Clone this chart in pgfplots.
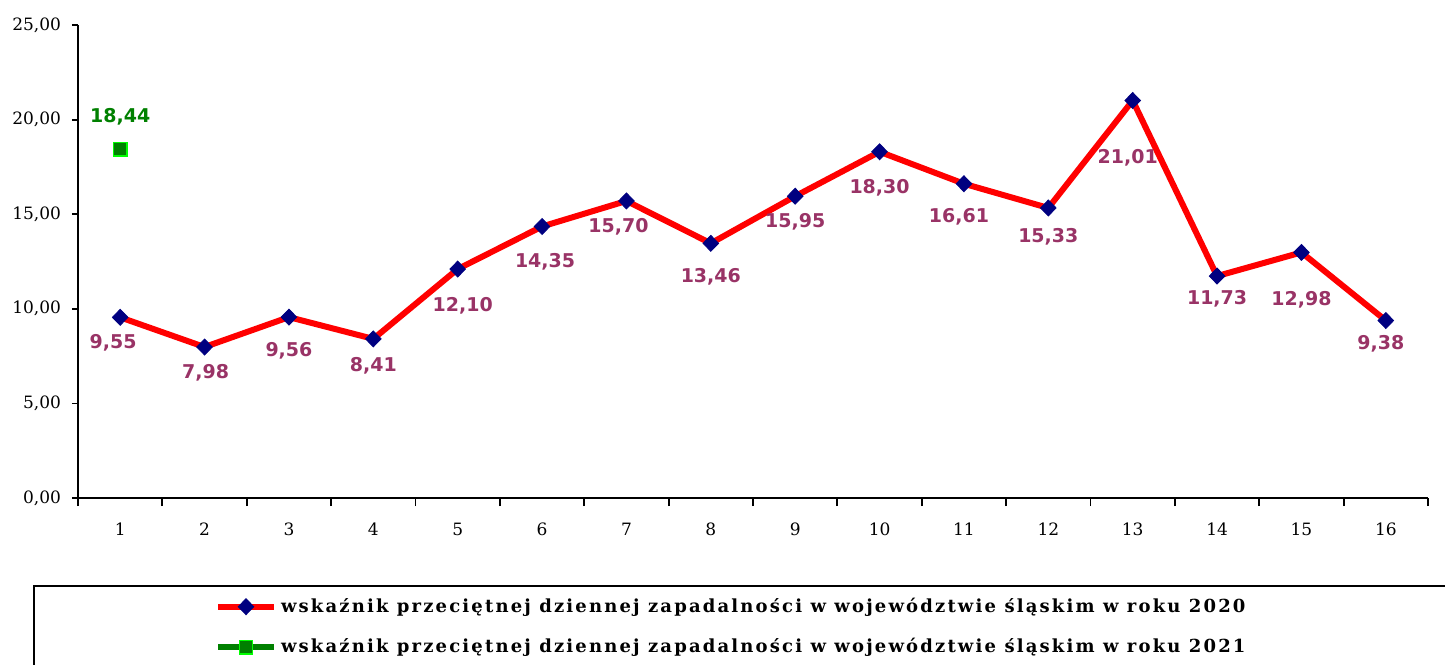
\documentclass[border=0pt]{standalone}
\usepackage{pgfplots}
\pgfplotsset{compat=1.18}
\usepackage{pgfplotstable}
\usepackage{fontspec}
\setmainfont{DejaVu Serif}
\newfontfamily\labfont{DejaVu Sans}
\newfontfamily\legfont[LetterSpace=12]{DejaVu Serif}
\definecolor{lred}{RGB}{255,0,0}
\definecolor{navyb}{RGB}{0,0,128}
\definecolor{plum}{RGB}{153,51,102}
\definecolor{dgreen}{RGB}{0,128,0}
\definecolor{limeg}{RGB}{0,255,0}

\pgfplotstableread{
x y lx ly
1 9.55 -3.5 12.5
2 7.98 0.5 13
3 9.56 0 17
4 8.41 0 13.5
5 12.10 2.5 18.5
6 14.35 1.5 17.5
7 15.70 -4 13
8 13.46 0 16.5
9 15.95 0 13
10 18.30 0 18
11 16.61 -2.5 16.5
12 15.33 0 14.5
13 21.01 -2.5 28.5
14 11.73 0 11.5
15 12.98 0 23.5
16 9.38 -2.5 11.5
}\datatwenty

\pgfplotstableread{
x y
1 18.44
}\datatwentyone

\begin{document}
\begin{tikzpicture}
\begin{axis}[
  name=ax,
  scale only axis,
  width=675pt, height=236.5pt,
  xmin=0.5, xmax=16.5, ymin=0, ymax=25,
  axis lines*=left,
  axis line style={line width=0.9pt},
  xtick={1,...,16},
  major x tick style={draw=none},
  minor xtick={0.5,1.5,...,16.5},
  minor x tick style={line width=0.9pt, black},
  ytick={0,5,...,25},
  major y tick style={line width=0.9pt, black},
  tick align=outside,
  major tick length=3pt,
  minor tick length=4pt,
  tick label style={font=\fontsize{8.5}{10}\selectfont, text=black},
  /pgf/number format/assume math mode=true,
  yticklabel style={/pgf/number format/.cd, fixed, fixed zerofill, precision=2, use comma, /tikz/xshift=-2pt},
  xticklabel style={yshift=-6pt},
  clip=false,
  legend style={
    at={(axis description cs:-0.03333,-0.18393)},
    anchor=north west,
    draw=black, line width=1pt,
    inner xsep=90.5pt, inner ysep=4pt,
    row sep=7.5pt,
    font=\legfont\bfseries\fontsize{9}{10}\selectfont,
  },
  legend cell align=left,
  legend image code/.code={
    \draw[mark repeat=2,mark phase=2,#1] plot coordinates {(0pt,0pt) (14pt,0pt) (28pt,0pt)};
  },
]
\addplot[
  color=lred, line width=3pt,
  mark=diamond*, mark size=4pt,
  mark options={solid, line width=0.4pt, draw=navyb, fill=navyb, xscale=1.3},
  nodes near coords={\pgfmathprintnumber[fixed,fixed zerofill,precision=2,use comma,assume math mode=true]{\pgfplotspointmeta}},
  point meta=y,
  visualization depends on={\thisrow{lx} \as \lx},
  visualization depends on={\thisrow{ly} \as \ly},
  every node near coord/.append style={anchor=center, xshift=\lx pt, yshift=-\ly pt, font=\labfont\bfseries\fontsize{9.5}{11}\selectfont, text=plum},
] table[x=x, y=y] {\datatwenty};
\addlegendentry{\makebox[500pt][l]{wskaźnik przeciętnej dziennej zapadalności w województwie śląskim w roku 2020}}

\addplot[
  color=dgreen, line width=3pt,
  mark=square*, mark size=3.3pt,
  mark options={solid, line width=0.8pt, draw=limeg, fill=dgreen},
  nodes near coords={\pgfmathprintnumber[fixed,fixed zerofill,precision=2,use comma,assume math mode=true]{\pgfplotspointmeta}},
  point meta=y,
  every node near coord/.append style={anchor=center, yshift=16pt, font=\labfont\bfseries\fontsize{9.5}{11}\selectfont, text=dgreen},
] table[x=x, y=y] {\datatwentyone};
\addlegendentry{\makebox[500pt][l]{wskaźnik przeciętnej dziennej zapadalności w województwie śląskim w roku 2021}}
\end{axis}
\pgfresetboundingbox
\path[use as bounding box] ([xshift=-39pt,yshift=-83pt]ax.south west) rectangle ([xshift=8.5pt,yshift=12.5pt]ax.north east);
\end{tikzpicture}
\end{document}
